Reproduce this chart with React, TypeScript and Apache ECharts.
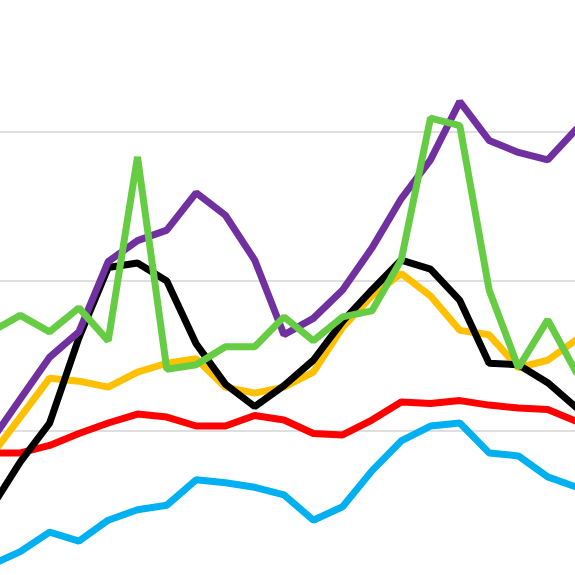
import React, { useEffect, useRef } from "react";
import * as echarts from "echarts";

const categories = [
  "1", "2", "3", "4", "5", "6", "7", "8", "9", "10", "11",
  "12", "13", "14", "15", "16", "17", "18", "19", "20", "21",
];

const blueValues = [1.0, 1.9, 3.2, 2.6, 4.0, 4.7, 5.0, 6.7, 6.5, 6.2, 5.7, 4.0, 4.9, 7.3, 9.3, 10.3, 10.5, 8.5, 8.3, 6.9, 6.2];
const redValues = [8.5, 8.5, 9.0, 9.8, 10.5, 11.1, 10.9, 10.3, 10.3, 11.0, 10.7, 9.8, 9.7, 10.7, 11.9, 11.8, 12.0, 11.7, 11.5, 11.4, 10.6];
const orangeValues = [8.3, 10.9, 13.5, 13.3, 12.9, 13.9, 14.5, 14.8, 12.9, 12.5, 12.9, 13.9, 16.9, 19.0, 20.5, 19.0, 16.7, 16.4, 14.2, 14.7, 16.1];
const blackValues = [4.8, 7.9, 10.5, 16.2, 20.9, 21.2, 20.0, 15.8, 13.1, 11.6, 13.0, 14.7, 17.3, 19.4, 21.4, 20.8, 18.7, 14.5, 14.4, 13.2, 11.5];
const purpleValues = [9.3, 12.1, 14.9, 16.6, 21.3, 22.7, 23.4, 25.9, 24.4, 21.4, 16.4, 17.5, 19.4, 22.2, 25.5, 28.1, 32.0, 29.4, 28.6, 28.1, 30.2];
const greenValues = [16.6, 17.7, 16.6, 18.2, 16.0, 28.3, 14.1, 14.4, 15.6, 15.6, 17.6, 16.0, 17.6, 18.0, 21.4, 30.9, 30.4, 19.4, 14.2, 17.4, 13.8];

const seriesList = [
  { name: "Blue", color: "#00B0F0", data: blueValues },
  { name: "Red", color: "#FF0000", data: redValues },
  { name: "Orange", color: "#FFC000", data: orangeValues },
  { name: "Black", color: "#000000", data: blackValues },
  { name: "Purple", color: "#7030A0", data: purpleValues },
  { name: "Green", color: "#66CC44", data: greenValues },
];

export default function App() {
  const ref = useRef<HTMLDivElement>(null);

  useEffect(() => {
    if (!ref.current) return;
    const chart = echarts.init(ref.current, undefined, { renderer: "svg" });
    chart.setOption({
      animation: false,
      backgroundColor: "#ffffff",
      grid: { left: 0, right: 0, top: 0, bottom: 0, containLabel: false },
      xAxis: {
        type: "category",
        data: categories,
        boundaryGap: false,
        axisLine: { show: false },
        axisTick: { show: false },
        axisLabel: { show: false },
        splitLine: { show: false },
      },
      yAxis: {
        type: "value",
        min: 0,
        max: 40,
        interval: 10,
        axisLine: { show: false },
        axisTick: { show: false },
        axisLabel: { show: false },
        splitLine: { show: true, lineStyle: { color: "#d4d4d4", width: 1.5 } },
      },
      series: seriesList.map((s) => ({
        name: s.name,
        type: "line",
        data: s.data,
        symbol: "none",
        showSymbol: false,
        clip: false,
        lineStyle: { color: s.color, width: 7, join: "bevel" },
        itemStyle: { color: s.color },
      })),
    });
    return () => chart.dispose();
  }, []);

  return (
    <div
      style={{
        position: "fixed",
        top: 0,
        left: 0,
        width: 575,
        height: 575,
        overflow: "hidden",
        background: "#fff",
      }}
    >
      <div
        ref={ref}
        style={{ position: "absolute", left: -9.3, top: -18.5, width: 586, height: 598 }}
      />
    </div>
  );
}
